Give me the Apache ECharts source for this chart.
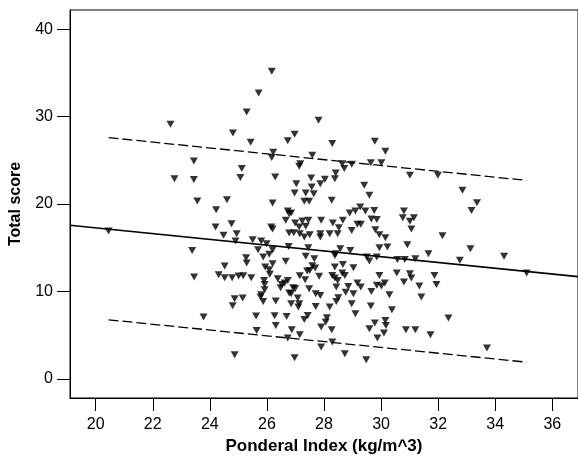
<!DOCTYPE html>
<html>
<head>
<meta charset="utf-8">
<script src="https://cdn.jsdelivr.net/npm/echarts@6.0.0/dist/echarts.min.js"></script>
<style>
  html, body { margin: 0; padding: 0; background: #fff; }
  #chart { width: 578px; height: 466px; }
</style>
</head>
<body>
<div id="chart"></div>
<script>
  // ponderal index (kg/m^3) of each subject
  const ponderalIndex = [
    26.17, 25.71, 25.29, 22.62, 27.81, 24.81, 26.97, 26.73, 25.43, 28.29,
    29.78, 30.15, 26.22, 26.17, 27.59, 23.44, 27.17, 27.13, 28.64, 28.97,
    29.64, 30.01, 28.71, 25.12, 22.76, 23.44, 25.07, 26.29, 27.55, 28.03,
    28.41, 28.38, 31.01, 31.99, 27.87, 27.03, 27.57, 29.41, 26.97, 27.36,
    27.64, 29.59, 32.85, 23.56, 24.60, 26.20, 27.31, 27.48, 28.27, 33.36,
    33.17, 24.22, 26.73, 26.78, 26.85, 28.90, 29.10, 29.27, 29.45, 29.76,
    30.80, 30.76, 31.01, 31.15, 24.76, 24.20, 26.15, 26.20, 26.66, 26.99,
    27.24, 27.45, 27.36, 27.13, 27.90, 28.31, 28.52, 28.66, 28.97, 29.17,
    29.29, 29.66, 29.85, 29.80, 31.06, 20.45, 24.48, 24.94, 26.78, 26.94,
    27.15, 27.31, 27.50, 27.87, 27.87, 28.20, 28.48, 29.94, 30.15, 32.15,
    24.90, 25.50, 25.80, 25.99, 26.76, 27.45, 26.20, 25.69, 23.38, 28.57,
    28.92, 29.94, 30.22, 30.92, 33.13, 26.08, 25.87, 25.27, 26.66, 27.36,
    27.66, 28.38, 28.41, 29.50, 29.59, 29.85, 30.57, 30.83, 31.20, 31.66,
    32.76, 34.31, 25.29, 24.52, 26.20, 25.94, 26.08, 27.59, 27.69, 28.38,
    28.66, 29.03, 27.50, 27.41, 35.10, 23.45, 24.31, 24.52, 24.78, 25.01,
    25.17, 25.45, 26.10, 26.38, 26.73, 27.15, 27.34, 27.83, 28.29, 28.38,
    28.48, 28.73, 28.64, 29.94, 30.55, 31.01, 31.06, 31.87, 25.90, 25.92,
    26.52, 26.62, 26.92, 26.99, 27.48, 28.43, 28.85, 29.17, 29.29, 29.85,
    30.01, 30.13, 30.80, 31.34, 31.94, 25.92, 26.48, 26.78, 27.08, 27.71,
    27.87, 28.76, 29.03, 29.66, 30.29, 25.80, 26.85, 25.78, 24.87, 25.15,
    25.87, 26.31, 26.85, 27.13, 28.43, 28.50, 28.97, 24.80, 27.10, 27.71,
    28.20, 29.64, 31.41, 30.38, 23.78, 25.62, 26.27, 26.69, 27.43, 27.31,
    28.10, 29.10, 28.06, 29.78, 30.15, 30.17, 32.36, 26.31, 27.90, 29.59,
    25.64, 26.87, 28.27, 30.87, 31.20, 30.10, 27.15, 31.73, 26.73, 29.87,
    28.29, 33.71, 27.90, 24.87, 28.73, 26.97, 29.48
  ];

  // total score of each subject (same order)
  const totalScore = [
    35.19, 32.71, 30.53, 29.12, 29.58, 28.13, 27.98, 27.25, 27.06, 26.91,
    27.18, 26.03, 25.92, 25.31, 25.57, 24.92, 24.62, 24.31, 24.62, 24.54,
    24.73, 24.73, 24.05, 24.05, 22.90, 22.79, 23.02, 23.09, 22.98, 22.82,
    23.55, 22.90, 23.28, 23.28, 22.33, 22.33, 21.95, 22.14, 21.26, 21.26,
    21.18, 20.99, 21.56, 20.34, 20.50, 20.11, 20.31, 20.31, 20.42, 20.15,
    19.27, 19.35, 19.20, 18.89, 18.97, 18.97, 19.20, 19.66, 19.20, 19.27,
    19.20, 18.44, 18.02, 18.44, 17.75, 17.37, 17.37, 17.14, 18.13, 17.82,
    18.05, 18.13, 17.44, 17.37, 18.13, 17.82, 17.29, 18.13, 16.98, 17.67,
    17.67, 18.28, 18.24, 17.06, 17.14, 16.91, 16.41, 16.60, 16.68, 16.72,
    16.60, 16.22, 16.49, 16.60, 16.22, 16.60, 16.60, 16.49, 16.15, 16.37,
    15.76, 15.92, 15.76, 15.46, 15.15, 15.00, 14.77, 14.77, 14.69, 14.89,
    14.69, 15.00, 15.08, 15.34, 14.89, 14.24, 13.93, 13.85, 13.44, 14.01,
    13.74, 14.12, 14.31, 13.93, 13.47, 13.93, 13.66, 13.66, 13.74, 14.31,
    13.55, 14.01, 13.24, 12.90, 13.17, 12.79, 12.48, 12.94, 12.67, 12.79,
    13.09, 12.71, 12.40, 12.33, 12.10, 11.64, 11.91, 11.56, 11.56, 11.76,
    11.79, 11.56, 11.95, 11.45, 11.26, 11.79, 11.34, 11.72, 11.83, 11.53,
    11.26, 11.83, 12.10, 11.83, 12.10, 12.02, 11.53, 11.83, 11.26, 10.80,
    10.80, 10.95, 10.42, 10.34, 10.31, 10.50, 10.57, 10.95, 10.50, 10.69,
    10.61, 10.95, 11.07, 10.61, 10.80, 10.19, 10.42, 9.81, 9.24, 9.73,
    9.54, 9.89, 9.73, 10.00, 9.62, 9.62, 9.73, 9.35, 9.16, 9.24,
    8.85, 8.89, 8.59, 8.59, 8.85, 9.27, 8.59, 8.36, 8.21, 8.28,
    8.21, 8.32, 9.35, 7.90, 7.06, 7.18, 7.21, 7.14, 7.25, 6.79,
    6.98, 7.44, 6.49, 6.37, 6.68, 6.11, 6.95, 6.11, 5.92, 5.73,
    5.53, 5.61, 5.61, 5.61, 5.61, 5.23, 5.04, 5.04, 4.66, 4.66,
    4.20, 3.51, 3.63, 2.75, 2.86, 2.40, 2.18
  ];

  // regression line and prediction band end points
  const fitX = [19.1, 36.9];
  const fitY = [17.57, 11.69];
  const bandX = [20.45, 35.1];
  const upperY = [27.6, 22.7];
  const lowerY = [6.75, 1.9];

  const xTicks = [20, 22, 24, 26, 28, 30, 32, 34, 36];
  const yTicks = [0, 10, 20, 30, 40];

  const pairs = (xs, ys) => xs.map((x, i) => [x, ys[i]]);

  const chartDom = document.getElementById('chart');
  const myChart = echarts.init(chartDom, null, { renderer: 'canvas' });

  const font = 'Liberation Sans, Arial, sans-serif';

  let option = {
    animation: false,
    backgroundColor: '#fff',
    grid: {
      left: 70,
      top: 10,
      right: -2,
      bottom: 68,
      show: true,
      borderColor: '#000',
      borderWidth: 1,
    },
    xAxis: {
      type: 'value',
      min: 19.1,
      max: 36.9,
      name: 'Ponderal Index (kg/m^3)',
      nameLocation: 'middle',
      nameGap: 37,
      nameTextStyle: { color: '#000', fontSize: 17, fontWeight: 'bold', fontFamily: font },
      axisLine: { show: true, onZero: false, lineStyle: { color: '#000', width: 1 } },
      axisTick: { show: true, length: 13, customValues: xTicks, lineStyle: { color: '#000', width: 1 } },
      axisLabel: { customValues: xTicks, margin: 19, color: '#000', fontSize: 16, fontFamily: font },
      splitLine: { show: false },
    },
    yAxis: {
      type: 'value',
      min: -2.2,
      max: 42.2,
      name: 'Total score',
      nameLocation: 'middle',
      nameGap: 46,
      nameTextStyle: { color: '#000', fontSize: 16, fontWeight: 'bold', fontFamily: font },
      axisLine: { show: true, onZero: false, lineStyle: { color: '#000', width: 1 } },
      axisTick: { show: true, length: 13, customValues: yTicks, lineStyle: { color: '#000', width: 1 } },
      axisLabel: { customValues: yTicks, margin: 17, color: '#000', fontSize: 16, fontFamily: font },
      splitLine: { show: false },
    },
    series: [
      {
        type: 'scatter',
        data: pairs(ponderalIndex, totalScore),
        symbol: 'triangle',
        symbolRotate: 180,
        symbolSize: [8, 7],
        itemStyle: { color: '#000' },
      },
      {
        type: 'line',
        data: pairs(fitX, fitY),
        symbol: 'none',
        lineStyle: { color: '#000', width: 1.6 },
      },
      {
        type: 'line',
        data: pairs(bandX, upperY),
        symbol: 'none',
        lineStyle: { color: '#000', width: 1.3, type: [10, 4] },
      },
      {
        type: 'line',
        data: pairs(bandX, lowerY),
        symbol: 'none',
        lineStyle: { color: '#000', width: 1.3, type: [10, 4] },
      },
    ],
  };

  option && myChart.setOption(option);
</script>
</body>
</html>
